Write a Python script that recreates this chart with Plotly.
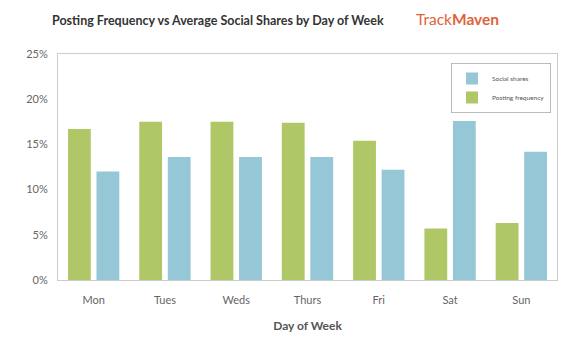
import plotly.graph_objects as go

days = ["Mon", "Tues", "Weds", "Thurs", "Fri", "Sat", "Sun"]
posting_frequency = [16.7, 17.5, 17.5, 17.4, 15.4, 5.7, 6.3]
social_shares = [12.0, 13.6, 13.6, 13.6, 12.2, 17.6, 14.2]
y_ticks = [0, 5, 10, 15, 20, 25]
y_tick_labels = ["0%", "5%", "10%", "15%", "20%", "25%"]

GREEN = "#afc767"
BLUE = "#95c7d7"
FONT = "Lato, 'Open Sans', sans-serif"

W, H = 587, 342
l, r, t, b = 58, 30, 54, 62
pw, ph = W - l - r, H - t - b
def px(x): return (x - l) / pw
def py(y): return (H - b - y) / ph

fig = go.Figure()
fig.add_trace(go.Bar(x=days, y=posting_frequency, name="Posting frequency",
                     marker=dict(color=GREEN, line=dict(width=0))))
fig.add_trace(go.Bar(x=days, y=social_shares, name="Social shares",
                     marker=dict(color=BLUE, line=dict(width=0))))

fig.update_layout(
    width=W, height=H,
    margin=dict(l=l, r=r, t=t, b=b),
    paper_bgcolor="white", plot_bgcolor="white",
    font=dict(family=FONT, color="#666666", size=11),
    barmode="group", bargap=0.2, bargroupgap=0.2,
    showlegend=True,
    legend=dict(traceorder="reversed", x=px(551), y=py(63), xanchor="right", yanchor="top",
                bordercolor="#bbbbbb", borderwidth=1, bgcolor="white",
                font=dict(size=6.5, color="#555555"), itemwidth=30,
                tracegroupgap=2),
    xaxis=dict(showline=True, linecolor="#cccccc", mirror=True, ticks="",
               tickfont=dict(size=11, color="#666666"), ticklabelstandoff=10,
               title=dict(text="<b>Day of Week</b>", font=dict(size=12, color="#555555"), standoff=16)),
    yaxis=dict(range=[0, 25], tickvals=y_ticks, ticktext=y_tick_labels, showgrid=False,
               showline=True, linecolor="#cccccc", mirror=True, zeroline=False,
               tickfont=dict(size=11, color="#666666"), ticks="", ticklabelstandoff=7),
    annotations=[
        dict(text="<b>Posting Frequency vs Average Social Shares by Day of Week</b>",
             x=px(50), y=py(20), xref="paper", yref="paper", showarrow=False,
             font=dict(size=12.5, color="#333333", family=FONT),
             xanchor="left", yanchor="middle"),
        dict(text="Track<b>Maven</b>", x=px(414), y=py(19), xref="paper", yref="paper",
             showarrow=False, xanchor="left", yanchor="middle",
             font=dict(size=15.5, color="#e0633a", family=FONT)),
    ],
)

fig.write_html("out.html")
